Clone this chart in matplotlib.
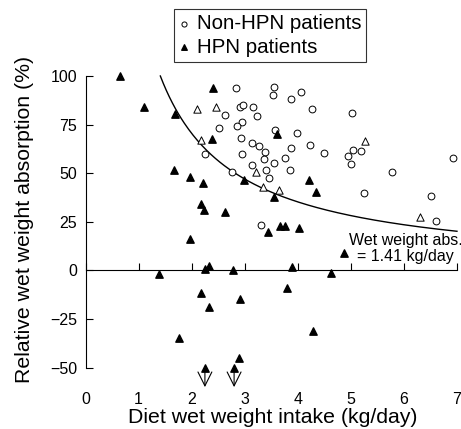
import numpy as np
import matplotlib
matplotlib.use("Agg")
import matplotlib.pyplot as plt

plt.rcParams['font.family'] = ['Liberation Sans', 'DejaVu Sans']

# Non-HPN patients (open circles)
non_hpn_x = [2.83, 2.91, 2.97, 3.16, 2.62, 3.24, 2.94, 2.85, 2.52, 2.93, 3.13, 3.27,
             2.94, 2.26, 3.13, 2.76, 3.31, 3.55, 3.53, 4.07, 3.87, 4.27, 5.02, 3.58,
             3.99, 3.38, 3.37, 3.87, 3.75, 4.23, 4.50, 5.05, 5.20, 4.95, 5.00, 3.56,
             3.40, 3.85, 3.46, 5.78, 6.92, 5.24, 6.52, 6.60]
non_hpn_y = [93.9, 84.2, 84.9, 84.2, 79.9, 79.4, 76.4, 74.3, 73.0, 68.0, 65.5, 64.1,
             60.0, 59.7, 54.4, 50.7, 23.3, 94.2, 90.1, 91.8, 88.3, 83.0, 81.0, 72.4,
             70.8, 60.9, 57.5, 62.9, 57.8, 64.3, 60.2, 61.7, 61.4, 58.7, 54.6, 55.1,
             51.7, 51.7, 47.3, 50.5, 57.8, 39.8, 38.1, 25.4]

# HPN patients (filled triangles)
hpn_x = [0.65, 1.11, 1.68, 2.40, 2.39, 1.66, 1.96, 2.22, 2.18, 2.24, 2.63, 1.96,
         2.98, 3.61, 3.55, 4.22, 4.34, 3.43, 3.66, 3.76, 4.02, 4.87, 1.38, 2.26,
         2.33, 2.78, 2.17, 2.33, 2.92, 1.77, 2.90, 2.25, 2.80, 3.90, 4.62, 3.80, 4.29]
hpn_y = [100.0, 83.8, 80.3, 93.9, 67.5, 51.7, 48.1, 44.9, 34.3, 31.3, 30.1, 16.2,
         46.4, 70.4, 37.8, 46.6, 40.3, 19.6, 23.0, 23.0, 21.6, 8.8, -1.7, 0.5,
         2.2, 0.4, -11.6, -18.9, -14.8, -34.5, -44.9, -50.0, -50.0, 2.0, -1.4, -9.0, -31.1]

# open triangles (no legend entry)
open_tri_x = [2.11, 2.45, 2.17, 3.22, 5.27, 3.35, 3.65, 6.31]
open_tri_y = [82.8, 83.8, 67.0, 50.5, 66.7, 42.9, 41.2, 27.6]

wet_abs = 1.41  # kg/day
xticks = [0, 1, 2, 3, 4, 5, 6, 7]
yticks = [-50, -25, 0, 25, 50, 75, 100]

fig = plt.figure(figsize=(4.61, 4.29), dpi=100)
ax = fig.add_axes([0.1855, 0.0886, 0.8115, 0.7524])

# constant wet weight absorption line
cx = np.linspace(wet_abs, 7.0, 200)
ax.plot(cx, wet_abs / cx * 100, color='black', lw=1.0)

ax.scatter(non_hpn_x, non_hpn_y, s=24, marker='o', facecolors='white',
           edgecolors='black', linewidths=0.7, label='Non-HPN patients', zorder=3)
ax.scatter(open_tri_x, open_tri_y, s=28, marker='^', facecolors='white',
           edgecolors='black', linewidths=0.7, zorder=3)
ax.scatter(hpn_x, hpn_y, s=28, marker='^', color='black', label='HPN patients',
           zorder=4, clip_on=False)

# arrows under the truncated values
for x, y in zip(hpn_x, hpn_y):
    if y <= -50:
        ax.annotate('', xy=(x, -60), xytext=(x, -52.5),
                    arrowprops=dict(arrowstyle='->,head_length=1.0,head_width=0.5',
                                    lw=0.8, color='black', shrinkA=0, shrinkB=0),
                    annotation_clip=False)

ax.text(6.03, 11.2, 'Wet weight abs.\n= 1.41 kg/day', ha='center', va='center',
        fontsize=11.5, linespacing=1.05)

ax.set_xlim(0, 7.05)
ax.set_ylim(-62, 104)

for s in ['top', 'right']:
    ax.spines[s].set_visible(False)
ax.spines['left'].set_bounds(-50, 100)
ax.spines['bottom'].set_position(('data', 0))
ax.spines['bottom'].set_bounds(0, 7)
ax.spines['left'].set_linewidth(0.8)
ax.spines['bottom'].set_linewidth(0.8)

ax.set_xticks(xticks)
ax.tick_params(axis='x', direction='in', length=5, width=0.8, labelbottom=False)
ax.set_yticks(yticks)
ax.tick_params(axis='y', direction='in', length=5, width=0.8, pad=6, labelsize=11.5)

sec = ax.secondary_xaxis('bottom')
sec.set_xticks(xticks)
sec.spines['bottom'].set_visible(False)
sec.tick_params(length=0, pad=1, labelsize=11.5)
sec.set_xlabel('Diet wet weight intake (kg/day)', fontsize=15.3, labelpad=0.5)

ax.set_ylabel('Relative wet weight absorption (%)', fontsize=15.3)
ax.yaxis.set_label_coords(-0.1377, 0.53)

fig.legend(loc='upper left', bbox_to_anchor=(174 / 461, 1 - 9.3 / 429),
           fontsize=14.8, frameon=True, fancybox=False, edgecolor='black',
           handlelength=0.5, handletextpad=0.35, borderpad=0.25,
           labelspacing=0.2, borderaxespad=0, markerscale=0.75)
fig.legends[0].get_frame().set_linewidth(0.8)

fig.savefig('out.png', dpi=100)
